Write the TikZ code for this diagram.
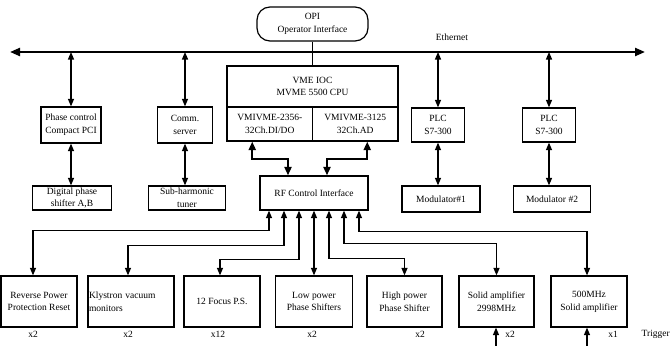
\documentclass[tikz,border=0pt]{standalone}
\usepackage{fontspec}
\setmainfont{Liberation Serif}
\usetikzlibrary{arrows.meta,calc}
\begin{document}
\begin{tikzpicture}[x=1pt,y=-1pt,
  txt/.style={font=\fontsize{9.5}{12.8}\selectfont},
  box/.style={draw,line width=1.2pt,align=center,inner sep=1pt,txt},
  lbl/.style={txt,inner sep=0pt},
  >={Triangle[length=7.5pt,width=6pt]},
  biconn/.style={line width=1.2pt,<->},
  upconn/.style={line width=1.2pt,->},
  thickbi/.style={line width=2.2pt,{Triangle[length=8.5pt,width=7pt]}-{Triangle[length=8.5pt,width=7pt]}},
  ethline/.style={line width=2.2pt,{Triangle[length=10pt,width=8pt]}-{Triangle[length=10pt,width=8pt]}}]
\useasboundingbox (0,0) rectangle (671,345);

% top
\node[box,rounded corners=13pt,minimum width=111pt,minimum height=34pt] (opi) at (312.5,24) {OPI\\Operator Interface};
\coordinate (ethL) at (10,52);
\coordinate (ethR) at (645,52);
\draw[ethline] (ethL) -- (ethR);
\node[lbl] (ethlbl) at (452,37) {Ethernet};

% VME IOC
\node[box,minimum width=171pt,minimum height=41pt] (vmetop) at (312.5,86.5) {VME IOC\\MVME 5500 CPU};
\node[box,minimum width=85.5pt,minimum height=34pt] (vmel) at (269.75,124) {VMIVME-2356-\\32Ch.DI/DO};
\node[box,minimum width=85.5pt,minimum height=34pt] (vmer) at (355.25,124) {VMIVME-3125\\32Ch.AD};
\draw[line width=1.2pt] (opi.south) -- (vmetop.north);

% second row
\node[box,minimum width=60pt,minimum height=36pt] (pc) at (71,125) {Phase control\\Compact PCI};
\node[box,minimum width=55pt,minimum height=36pt] (comm) at (185,125) {Comm.\\server};
\node[box,minimum width=53pt,minimum height=34pt] (plc1) at (438,125) {PLC\\S7-300};
\node[box,minimum width=53pt,minimum height=34pt] (plc2) at (549,125) {PLC\\S7-300};

\node[box,minimum width=79pt,minimum height=24pt] (dps) at (72,198) {Digital phase\\shifter A,B};
\node[box,minimum width=77pt,minimum height=24pt] (sht) at (187,198) {Sub-harmonic\\tuner};
\node[box,minimum width=78pt,minimum height=26pt] (mod1) at (441,199) {Modulator\#1};
\node[box,minimum width=77pt,minimum height=26pt] (mod2) at (552,199) {Modulator \#2};

\foreach \n in {pc,comm,plc1,plc2}{
  \draw[biconn] (\n.north |- ethL) -- (\n.north);
}
\draw[biconn] (pc.south) -- (pc.south |- dps.north);
\draw[biconn] (comm.south) -- (comm.south |- sht.north);
\draw[biconn] (plc1.south) -- (plc1.south |- mod1.north);
\draw[biconn] (plc2.south) -- (plc2.south |- mod2.north);

% RF control interface
\node[box,minimum width=108pt,minimum height=34pt] (rf) at (314,193) {RF Control Interface};
\draw[thickbi] ([xshift=-17.5pt]vmel.south) -- ++(0,17) -| ([xshift=-26pt]rf.north);
\draw[thickbi] ([xshift=12pt]vmer.south) -- ++(0,17) -| ([xshift=13pt]rf.north);

% bottom row
\node[box,minimum width=76pt,minimum height=51pt] (b1) at (39,301.5) {Reverse Power\\Protection Reset};
\node[draw,line width=1.2pt,txt,minimum width=86pt,minimum height=51pt,text width=84pt,align=left,inner sep=1pt] (b2) at (131,301.5) {Klystron vacuum\\monitors};
\node[box,minimum width=76pt,minimum height=51pt] (b3) at (222,301.5) {12 Focus P.S.};
\node[box,minimum width=77pt,minimum height=51pt] (b4) at (314,301.5) {Low power\\Phase Shifters};
\node[box,minimum width=75pt,minimum height=51pt] (b5) at (404.5,301.5) {High power\\Phase Shifter};
\node[box,minimum width=75pt,minimum height=51pt] (b6) at (496.5,301.5) {Solid amplifier\\2998MHz};
\node[box,minimum width=76pt,minimum height=51pt] (b7) at (589,301.5) {500MHz\\Solid amplifier};

\draw[biconn] ([xshift=-45pt]rf.south) -- ++(0,20) -| ([xshift=-6pt]b1.north);
\draw[biconn] ([xshift=-30pt]rf.south) -- ++(0,35) -| ([xshift=-3pt]b2.north);
\draw[biconn] ([xshift=-15pt]rf.south) -- ++(0,49) -| ([xshift=-2pt]b3.north);
\draw[biconn] (rf.south) -- (b4.north);
\draw[biconn] ([xshift=15pt]rf.south) -- ++(0,48) -| (b5.north);
\draw[biconn] ([xshift=30pt]rf.south) -- ++(0,33) -| (b6.north);
\draw[biconn] ([xshift=45pt]rf.south) -- ++(0,21) -| ([xshift=-2pt]b7.north);

% multipliers
\node[lbl] (m1) at (33,334) {x2};
\node[lbl] (m2) at (128,334) {x2};
\node[lbl] (m3) at (218,334) {x12};
\node[lbl] (m4) at (312,334) {x2};
\node[lbl] (m5) at (420,334) {x2};
\node[lbl] (m6) at (510,334) {x2};
\node[lbl] (m7) at (613,334) {x1};
\node[lbl,anchor=east] (trig) at (670,334) {Trigger};

% trigger inputs
\coordinate (t1) at (496,346);
\coordinate (t2) at (587,346);
\draw[upconn] (t1) -- (t1 |- b6.south);
\draw[upconn] (t2) -- (t2 |- b7.south);
\end{tikzpicture}
\end{document}
